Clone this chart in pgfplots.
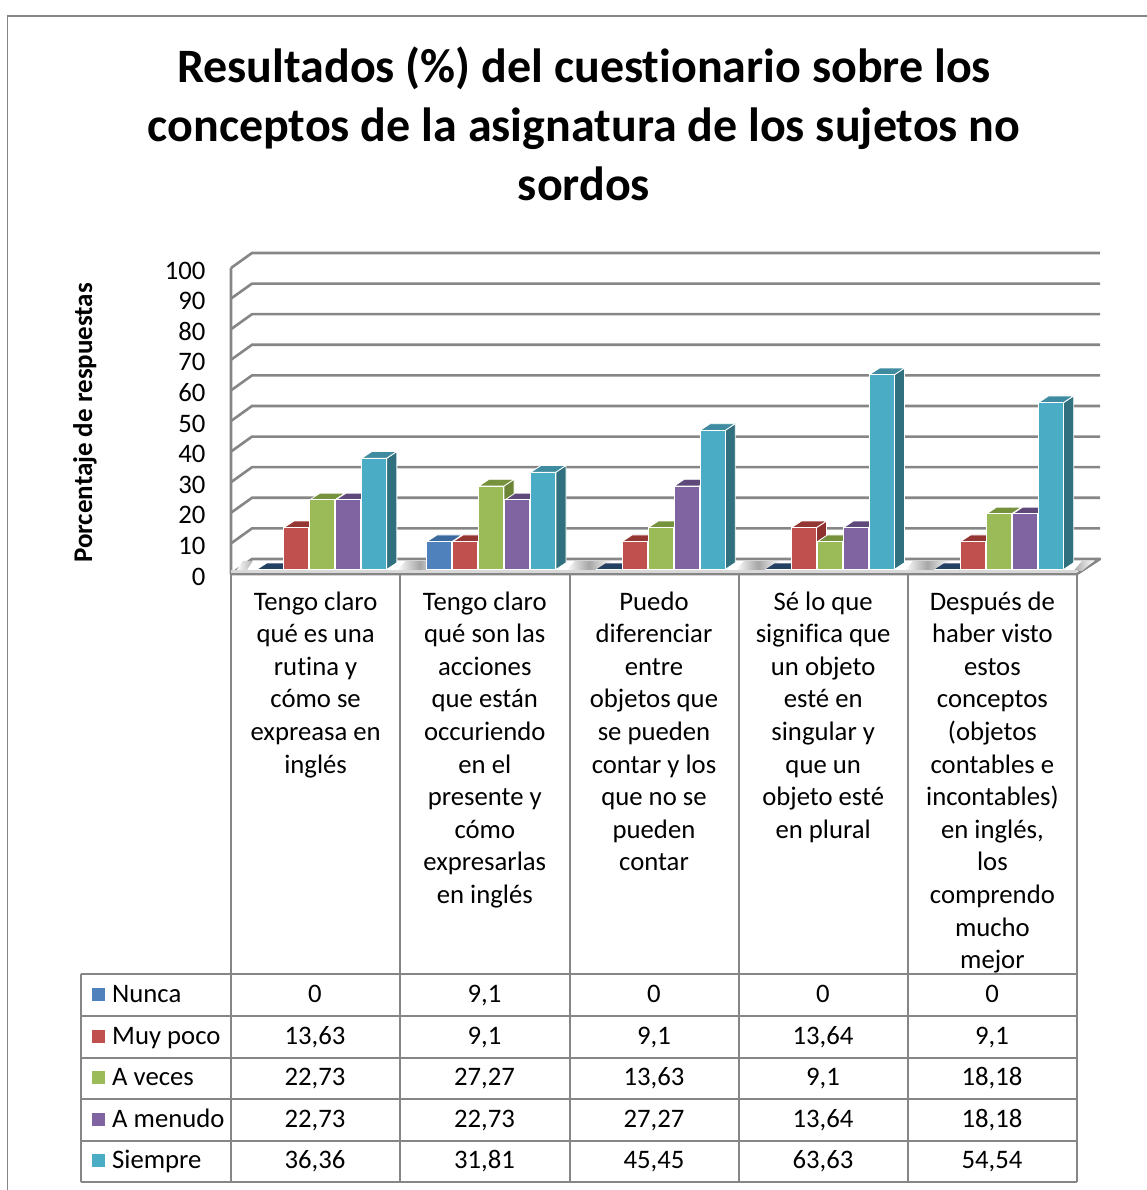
\documentclass[border=0pt]{standalone}
\usepackage{pgfplots}
\pgfplotsset{compat=1.18}
\usepackage{fontspec}
\setmainfont{Carlito}[Ligatures=NoCommon]
\definecolor{gr}{HTML}{868686}
\definecolor{cA}{HTML}{4F81BD}\definecolor{cB}{HTML}{C0504D}\definecolor{cC}{HTML}{9BBB59}\definecolor{cD}{HTML}{8064A2}\definecolor{cE}{HTML}{4BACC6}
\definecolor{tA}{HTML}{3A6A9E}\definecolor{tB}{HTML}{943634}\definecolor{tC}{HTML}{76923C}\definecolor{tD}{HTML}{5F497A}\definecolor{tE}{HTML}{3F8CA1}
\definecolor{sA}{HTML}{2F5A8E}\definecolor{sB}{HTML}{8E3230}\definecolor{sC}{HTML}{6B8435}\definecolor{sD}{HTML}{54406E}\definecolor{sE}{HTML}{31707F}
\definecolor{zA}{HTML}{244062}
% depth faces of a bar: group, series, value, top colour, side colour
\newcommand{\faces}[5]{%
 \pgfmathsetmacro\xl{#1+0.5+(6.6+(#2-2)*26-12.5)/169.2}%
 \pgfmathsetmacro\xr{#1+0.5+(6.6+(#2-2)*26+12.5)/169.2}%
 \pgfmathsetmacro\xlb{\xl+0.06}%
 \pgfmathsetmacro\xrb{\xr+0.06}%
 \pgfmathsetmacro\vb{#3+2.2}%
 \addplot[fill=#5,draw=white,line width=0.8pt,yshift=4.5pt,forget plot] coordinates {(\xr,0) (\xrb,2.2) (\xrb,\vb) (\xr,#3) (\xr,0)};
 \addplot[fill=#4,draw=white,line width=0.8pt,yshift=4.5pt,forget plot] coordinates {(\xl,#3) (\xr,#3) (\xrb,\vb) (\xlb,\vb) (\xl,#3)};
}
\newcommand{\flatface}[2]{%
 \pgfmathsetmacro\xl{#1+0.5+(6.6+(#2-2)*26-12.5)/169.2}%
 \pgfmathsetmacro\xr{#1+0.5+(6.6+(#2-2)*26+12.5)/169.2}%
 \pgfmathsetmacro\xlb{\xl+0.056}%
 \pgfmathsetmacro\xrb{\xr+0.056}%
 \addplot[fill=zA,draw=none,yshift=4.5pt,forget plot] coordinates {(\xl,0) (\xr,0) (\xrb,2.0) (\xlb,2.0) (\xl,0)};
}
\begin{document}
\begin{tikzpicture}
\path[use as bounding box] (0,0) rectangle (1147pt,1190pt);
\begin{scope}[x=1pt,y=-1pt,shift={(0pt,1190pt)}]
\draw[gr,line width=1.6pt] (7.5,1190)--(7.5,16)--(1147,16);
\node[align=center,font=\fontsize{48}{59}\selectfont\bfseries] at (584,124) {Resultados (\%) del cuestionario sobre los\\conceptos de la asignatura de los sujetos no\\sordos};
% table
\draw[gr,line width=2pt] (81,974.5)--(1077,974.5) (81,1016)--(1077,1016) (81,1057.7)--(1077,1057.7) (81,1099)--(1077,1099) (81,1140.7)--(1077,1140.7) (81,1182)--(1077,1182) (81,974.5)--(81,1182);
\draw[gr,line width=2pt] (231,574)--(231,1182) (400,574)--(400,1182) (569.5,574)--(569.5,1182) (739,574)--(739,1182) (908,574)--(908,1182) (1077,574)--(1077,1182);
\fill[cA] (92,988) rectangle +(13,13);
\fill[cB] (92,1030) rectangle +(13,13);
\fill[cC] (92,1071) rectangle +(13,13);
\fill[cD] (92,1113) rectangle +(13,13);
\fill[cE] (92,1154) rectangle +(13,13);
\begin{scope}[every node/.style={font=\fontsize{26.7}{30}\selectfont,inner sep=0pt,anchor=base}]
\node[anchor=base west] at (112,1003) {Nunca};
\node[anchor=base west] at (112,1045) {Muy poco};
\node[anchor=base west] at (112,1086) {A veces};
\node[anchor=base west] at (112,1128) {A menudo};
\node[anchor=base west] at (112,1169) {Siempre};
\node at (315,1003) {0}; \node at (484.5,1003) {9,1}; \node at (654,1003) {0}; \node at (823,1003) {0}; \node at (992,1003) {0};
\node at (315,1045) {13,63}; \node at (484.5,1045) {9,1}; \node at (654,1045) {9,1}; \node at (823,1045) {13,64}; \node at (992,1045) {9,1};
\node at (315,1086) {22,73}; \node at (484.5,1086) {27,27}; \node at (654,1086) {13,63}; \node at (823,1086) {9,1}; \node at (992,1086) {18,18};
\node at (315,1128) {22,73}; \node at (484.5,1128) {22,73}; \node at (654,1128) {27,27}; \node at (823,1128) {13,64}; \node at (992,1128) {18,18};
\node at (315,1169) {36,36}; \node at (484.5,1169) {31,81}; \node at (654,1169) {45,45}; \node at (823,1169) {63,63}; \node at (992,1169) {54,54};
\end{scope}
\end{scope}
\begin{axis}[
 at={(231pt,616pt)},anchor=south west,scale only axis,width=846pt,height=306pt,
 xmin=0,xmax=5,ymin=0,ymax=100,clip=false,
 axis line style={draw=none},tick style={draw=none},major tick length=0pt,
 xtick={0.5,1.5,2.5,3.5,4.5},
 ytick={0,10,...,100},
 ticklabel style={font=\fontsize{26.7}{32.6}\selectfont},
 /pgf/number format/assume math mode=true,
 yticklabel style={xshift=-22pt,yshift=-2.5pt},
 xticklabel style={align=center,anchor=north,yshift=-14pt},
 xticklabels={{Tengo claro\\qué es una\\rutina y\\cómo se\\expreasa en\\inglés},
 {Tengo claro\\qué son las\\acciones\\que están\\occuriendo\\en el\\presente y\\cómo\\expresarlas\\en inglés},
 {Puedo\\diferenciar\\entre\\objetos que\\se pueden\\contar y los\\que no se\\pueden\\contar},
 {Sé lo que\\significa que\\un objeto\\esté en\\singular y\\que un\\objeto esté\\en plural},
 {Después de\\haber visto\\estos\\conceptos\\(objetos\\contables e\\incontables)\\en inglés,\\los\\comprendo\\mucho\\mejor}},
 ylabel={Porcentaje de respuestas},
 ylabel style={at={(axis description cs:-0.1726,0.494)},anchor=center,font=\fontsize{27}{30}\selectfont\bfseries},
]
% floor
\addplot[fill=white,draw=none,forget plot] coordinates {(0,0) (5,0) (5.136,4.9) (0.124,4.9) (0,0)};
\addplot[gr,line width=2.6pt,line join=round,forget plot] coordinates {(0,100) (0,0) (5,0) (5.136,4.9) (0.124,4.9) (0,0)};
% back wall grid lines
\addplot[gr,line width=2.6pt,forget plot] coordinates {(0,10) (0.124,14.9) (5.136,14.9)};
\addplot[gr,line width=2.6pt,forget plot] coordinates {(0,20) (0.124,24.9) (5.136,24.9)};
\addplot[gr,line width=2.6pt,forget plot] coordinates {(0,30) (0.124,34.9) (5.136,34.9)};
\addplot[gr,line width=2.6pt,forget plot] coordinates {(0,40) (0.124,44.9) (5.136,44.9)};
\addplot[gr,line width=2.6pt,forget plot] coordinates {(0,50) (0.124,54.9) (5.136,54.9)};
\addplot[gr,line width=2.6pt,forget plot] coordinates {(0,60) (0.124,64.9) (5.136,64.9)};
\addplot[gr,line width=2.6pt,forget plot] coordinates {(0,70) (0.124,74.9) (5.136,74.9)};
\addplot[gr,line width=2.6pt,forget plot] coordinates {(0,80) (0.124,84.9) (5.136,84.9)};
\addplot[gr,line width=2.6pt,forget plot] coordinates {(0,90) (0.124,94.9) (5.136,94.9)};
\addplot[gr,line width=2.6pt,forget plot] coordinates {(0,100) (0.124,104.9) (5.136,104.9)};
% floor shadow
\shade[left color=white,right color=gray!60] (axis cs:0.03,1.0) -- (axis cs:0.09,1.0) -- (axis cs:0.13,4.3) -- (axis cs:0.07,4.3) -- cycle;
\shade[left color=white,right color=white,middle color=gray!70] (axis cs:0.98,1.0) -- (axis cs:1.22,1.0) -- (axis cs:1.25,4.2) -- (axis cs:1.03,4.2) -- cycle;
\shade[left color=white,right color=white,middle color=gray!70] (axis cs:1.98,1.0) -- (axis cs:2.2,1.0) -- (axis cs:2.25,4.2) -- (axis cs:2.03,4.2) -- cycle;
\shade[left color=white,right color=white,middle color=gray!70] (axis cs:2.98,1.0) -- (axis cs:3.2,1.0) -- (axis cs:3.25,4.2) -- (axis cs:3.03,4.2) -- cycle;
\shade[left color=white,right color=white,middle color=gray!70] (axis cs:3.98,1.0) -- (axis cs:4.2,1.0) -- (axis cs:4.25,4.2) -- (axis cs:4.03,4.2) -- cycle;
\shade[left color=gray!70,right color=white] (axis cs:4.98,1.0) -- (axis cs:5.03,4.3) -- (axis cs:5.1,4.3) -- (axis cs:5.03,1.0) -- cycle;
\fill[gray!30] (axis cs:0,0.3) rectangle (axis cs:5,1.3);
% Nunca
\faces{1}{0}{9.1}{tA}{sA}
\flatface{0}{0}\flatface{2}{0}\flatface{3}{0}\flatface{4}{0}
\addplot[ybar,bar width=25pt,bar shift=-45.4pt,fill=cA,draw=white,line width=1pt,yshift=4.5pt,forget plot] coordinates {(0.5,0) (1.5,9.1) (2.5,0) (3.5,0) (4.5,0)};
% Muy poco
\faces{0}{1}{13.63}{tB}{sB}\faces{1}{1}{9.1}{tB}{sB}\faces{2}{1}{9.1}{tB}{sB}\faces{3}{1}{13.64}{tB}{sB}\faces{4}{1}{9.1}{tB}{sB}
\addplot[ybar,bar width=25pt,bar shift=-19.4pt,fill=cB,draw=white,line width=1pt,yshift=4.5pt,forget plot] coordinates {(0.5,13.63) (1.5,9.1) (2.5,9.1) (3.5,13.64) (4.5,9.1)};
% A veces
\faces{0}{2}{22.73}{tC}{sC}\faces{1}{2}{27.27}{tC}{sC}\faces{2}{2}{13.63}{tC}{sC}\faces{3}{2}{9.1}{tC}{sC}\faces{4}{2}{18.18}{tC}{sC}
\addplot[ybar,bar width=25pt,bar shift=6.6pt,fill=cC,draw=white,line width=1pt,yshift=4.5pt,forget plot] coordinates {(0.5,22.73) (1.5,27.27) (2.5,13.63) (3.5,9.1) (4.5,18.18)};
% A menudo
\faces{0}{3}{22.73}{tD}{sD}\faces{1}{3}{22.73}{tD}{sD}\faces{2}{3}{27.27}{tD}{sD}\faces{3}{3}{13.64}{tD}{sD}\faces{4}{3}{18.18}{tD}{sD}
\addplot[ybar,bar width=25pt,bar shift=32.6pt,fill=cD,draw=white,line width=1pt,yshift=4.5pt,forget plot] coordinates {(0.5,22.73) (1.5,22.73) (2.5,27.27) (3.5,13.64) (4.5,18.18)};
% Siempre
\faces{0}{4}{36.36}{tE}{sE}\faces{1}{4}{31.81}{tE}{sE}\faces{2}{4}{45.45}{tE}{sE}\faces{3}{4}{63.63}{tE}{sE}\faces{4}{4}{54.54}{tE}{sE}
\addplot[ybar,bar width=25pt,bar shift=58.6pt,fill=cE,draw=white,line width=1pt,yshift=4.5pt,forget plot] coordinates {(0.5,36.36) (1.5,31.81) (2.5,45.45) (3.5,63.63) (4.5,54.54)};
\end{axis}
\end{tikzpicture}
\end{document}
